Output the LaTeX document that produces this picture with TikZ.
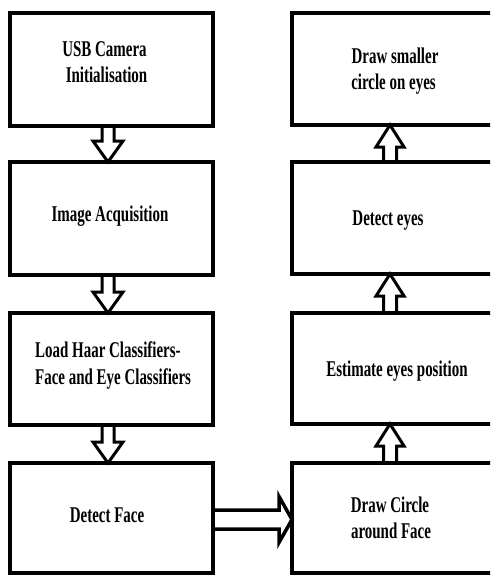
\documentclass[tikz,border=0pt]{standalone}
\usepackage{fontspec}
\newfontfamily\labelfont{Liberation Serif}[FakeStretch=0.665]
\usetikzlibrary{calc}
\tikzset{
  stepbox/.style={draw=black, line width=4pt, inner sep=0pt, outer sep=0pt,
    anchor=north west, minimum width=203pt},
  boxlabel/.style={font=\labelfont\bfseries\fontsize{22.5}{26}\selectfont,
    inner sep=0pt, anchor=base},
  blockarrow/.style={draw=black, line width=3pt, line join=miter},
  widearrow/.style={draw=black, line width=3.5pt, line join=miter},
}
\begin{document}
\begin{tikzpicture}[x=1pt,y=-1pt]
\useasboundingbox (0,0) rectangle (490,575);
\clip (0,0) rectangle (490,575);

% left column
\node[stepbox, minimum height=113pt] (b1) at (10,13) {};
\node[stepbox, minimum height=113pt] (b2) at (10,162) {};
\node[stepbox, minimum height=112pt] (b3) at (10,313) {};
\node[stepbox, minimum height=110pt] (b4) at (10,463) {};

% right column
\node[stepbox, minimum width=204pt, minimum height=112pt] (r1) at (292,13) {};
\node[stepbox, minimum width=204pt, minimum height=112pt] (r2) at (292,162) {};
\node[stepbox, minimum width=204pt, minimum height=111pt] (r3) at (292,313) {};
\node[stepbox, minimum width=204pt, minimum height=110pt] (r4) at (292,463) {};

% labels
\node[boxlabel] (t1a) at (104.5,57) {USB Camera};
\node[boxlabel] (t1b) at (106.5,83) {Initialisation};
\node[boxlabel] (t2) at (110,221) {Image Acquisition};
\node[boxlabel, anchor=base west] (t3a) at (35,357) {Load Haar Classifiers-};
\node[boxlabel, anchor=base west] (t3b) at (35,384) {Face and Eye Classifiers};
\node[boxlabel] (t4) at (107,522) {Detect Face};
\node[boxlabel] (t5a) at (390,512) {Draw Circle};
\node[boxlabel] (t5b) at (391,538) {around Face};
\node[boxlabel] (t6) at (397,376) {Estimate eyes position};
\node[boxlabel] (t7) at (388,225) {Detect eyes};
\node[boxlabel] (t8a) at (395,64) {Draw smaller};
\node[boxlabel] (t8b) at (393.5,90) {circle on eyes};

% downward block arrows, left column
\foreach \a/\b/\n in {b1/b2/1, b2/b3/2, b3/b4/3} {
  \coordinate (d\n s) at ([xshift=-3.5pt]\a.south);
  \coordinate (d\n e) at ([xshift=-3.5pt]\b.north);
  \draw[blockarrow] ($(d\n s)+(-6,0)$) -- ($(d\n e)+(-6,-21)$) -- ($(d\n e)+(-15,-21)$)
    -- (d\n e) -- ($(d\n e)+(15,-21)$) -- ($(d\n e)+(6,-21)$) -- ($(d\n s)+(6,0)$);
}

% upward block arrows, right column
\foreach \a/\b/\n in {r4/r3/1, r3/r2/2, r2/r1/3} {
  \coordinate (u\n s) at ([xshift=-4pt]\a.north);
  \coordinate (u\n e) at ([xshift=-4pt]\b.south);
  \draw[blockarrow] ($(u\n s)+(-6.5,0)$) -- ($(u\n e)+(-6.5,22)$) -- ($(u\n e)+(-14,22)$)
    -- (u\n e) -- ($(u\n e)+(14,22)$) -- ($(u\n e)+(6.5,22)$) -- ($(u\n s)+(6.5,0)$);
}

% wide arrow across the bottom
\coordinate (hs) at ([yshift=-1.5pt]b4.east);
\coordinate (he) at ([yshift=-1.5pt]r4.west);
\draw[widearrow] ($(hs)+(0,-9.5)$) -- ($(he)+(-13,-9.5)$) -- ($(he)+(-13,-23)$)
  -- (he) -- ($(he)+(-13,23)$) -- ($(he)+(-13,9.5)$) -- ($(hs)+(0,9.5)$);
\end{tikzpicture}
\end{document}
